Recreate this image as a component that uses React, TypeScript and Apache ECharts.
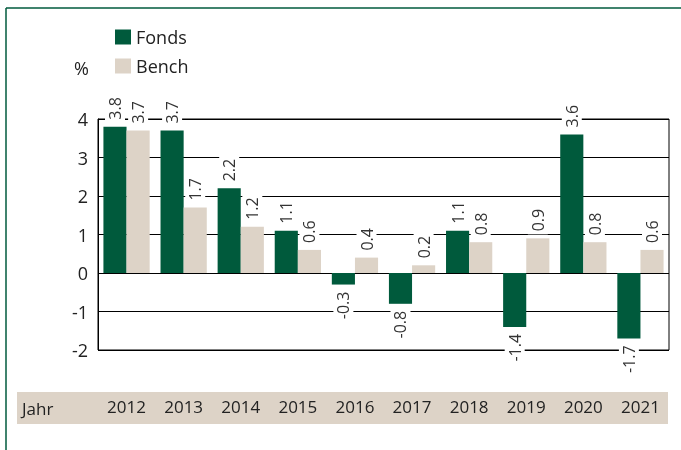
import React, { useEffect, useRef } from "react";
import * as echarts from "echarts";

const years = ["2012", "2013", "2014", "2015", "2016", "2017", "2018", "2019", "2020", "2021"];
const fonds = [3.8, 3.7, 2.2, 1.1, -0.3, -0.8, 1.1, -1.4, 3.6, -1.7];
const bench = [3.7, 1.7, 1.2, 0.6, 0.4, 0.2, 0.8, 0.9, 0.8, 0.6];
const seriesNames = ["Fonds", "Bench"];

const GREEN = "#005A3C";
const BEIGE = "#DDD3C7";
const FONT = "Open Sans";

function labelled(values: number[]) {
  return values.map((v) => ({
    value: v,
    label: v >= 0
      ? { position: "top", align: "left" }
      : { position: "bottom", align: "right" },
  }));
}

export default function App() {
  const ref = useRef<HTMLDivElement>(null);
  useEffect(() => {
    if (!ref.current) return;
    const chart = echarts.init(ref.current, undefined, { renderer: "svg" });
    const baseLabel = {
      show: true,
      rotate: 90,
      verticalAlign: "middle",
      distance: 4,
      color: "#333",
      fontFamily: FONT,
      fontSize: 16,
      backgroundColor: "#fff",
      padding: [2, 3, 2, 3],
      formatter: (p: any) => Number(p.value).toFixed(1),
    };
    chart.setOption({
      animation: false,
      textStyle: { fontFamily: FONT },
      legend: {
        orient: "vertical",
        left: 110,
        top: 23,
        itemWidth: 16,
        itemHeight: 15,
        itemGap: 11,
        icon: "rect",
        data: seriesNames,
        textStyle: { fontSize: 18, color: "#222", fontFamily: FONT },
      },
      grid: {
        left: 98,
        right: 12,
        top: 119,
        bottom: 100,
        show: true,
        borderColor: "#000",
        borderWidth: 1,
      },
      xAxis: {
        type: "category",
        data: years,
        axisLine: { show: false, onZero: false },
        axisTick: { show: false },
        axisLabel: { margin: 48, fontSize: 17, color: "#222", fontFamily: FONT },
      },
      yAxis: {
        type: "value",
        min: -2,
        max: 4,
        interval: 1,
        axisLine: { show: true, lineStyle: { color: "#000" } },
        axisTick: { show: false },
        splitLine: { show: true, lineStyle: { color: "#000", width: 1 } },
        axisLabel: { margin: 10, fontSize: 18, color: "#222", fontFamily: FONT },
      },
      graphic: [
        { type: "line", shape: { x1: 6, y1: 8, x2: 681, y2: 8 }, style: { stroke: GREEN, lineWidth: 1.5 } },
        { type: "line", shape: { x1: 6, y1: 8, x2: 6, y2: 450 }, style: { stroke: GREEN, lineWidth: 1.5 } },
        { type: "rect", z: -1, shape: { x: 17, y: 392, width: 651, height: 32 }, style: { fill: BEIGE } },
        { type: "text", x: 22, y: 408, style: { text: "Jahr", fontSize: 17, fill: "#222", fontFamily: FONT, verticalAlign: "middle" } },
        { type: "text", x: 74, y: 68, style: { text: "%", fontSize: 18, fill: "#222", fontFamily: FONT, verticalAlign: "middle" } },
      ],
      series: [
        {
          name: seriesNames[0],
          type: "bar",
          data: labelled(fonds),
          itemStyle: { color: GREEN },
          barGap: "0%",
          barCategoryGap: "19%",
          label: baseLabel,
        },
        {
          name: seriesNames[1],
          type: "bar",
          data: labelled(bench),
          itemStyle: { color: BEIGE },
          barGap: "0%",
          barCategoryGap: "19%",
          label: baseLabel,
        },
      ],
    });
    return () => chart.dispose();
  }, []);
  return <div ref={ref} style={{ position: "fixed", left: 0, top: 0, width: 681, height: 450 }} />;
}
